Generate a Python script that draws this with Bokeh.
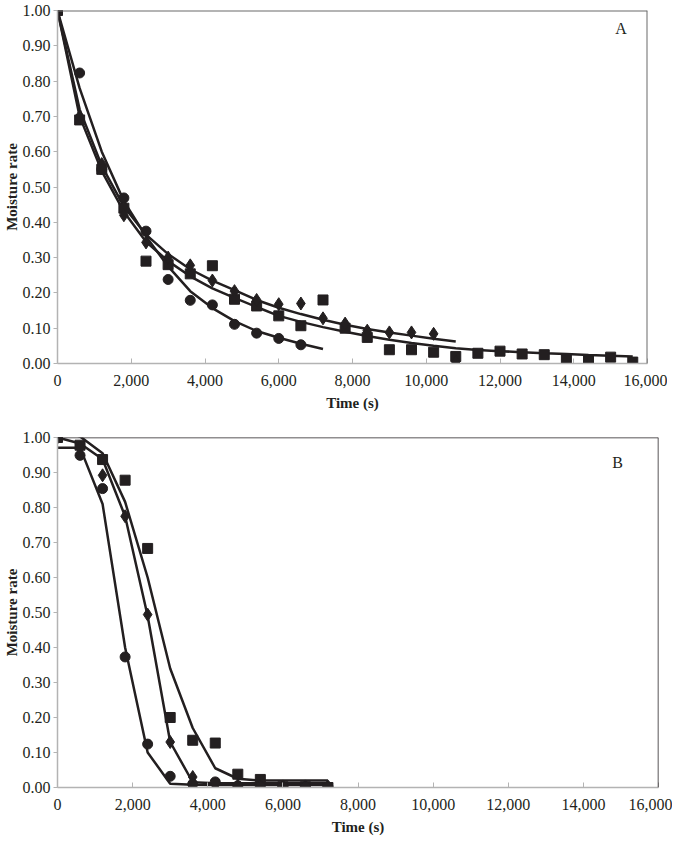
from bokeh.plotting import figure
from bokeh.layouts import column
from bokeh.models import FixedTicker, NumeralTickFormatter, Span, Label, Range1d
from bokeh.embed import file_html
from bokeh.resources import INLINE

# ---------------- data ----------------
x_ticks = [0, 2000, 4000, 6000, 8000, 10000, 12000, 14000, 16000]
y_ticks = [0.0, 0.1, 0.2, 0.3, 0.4, 0.5, 0.6, 0.7, 0.8, 0.9, 1.0]

# Panel A
a_t_circle = [0, 600, 1200, 1800, 2400, 3000, 3600, 4200, 4800, 5400, 6000, 6600]
a_circle = [1.00, 0.823, 0.55, 0.469, 0.375, 0.238, 0.179, 0.166, 0.111, 0.086, 0.071, 0.053]
a_t_circle_fit = [0, 600, 1200, 1800, 2400, 3000, 3600, 4200, 4800, 5400, 6000, 6600, 7200]
a_circle_fit = [1.00, 0.78, 0.60, 0.46, 0.36, 0.275, 0.205, 0.157, 0.12, 0.092, 0.073, 0.056, 0.041]

a_t_diamond = [0, 600, 1200, 1800, 2400, 3000, 3600, 4200, 4800, 5400, 6000, 6600, 7200,
               7800, 8400, 9000, 9600, 10200, 10800]
a_diamond = [1.00, 0.70, 0.565, 0.42, 0.343, 0.30, 0.278, 0.235, 0.205, 0.18, 0.168, 0.17, 0.128,
             0.113, 0.093, 0.088, 0.088, 0.084, 0.005]
a_diamond_fit = [1.00, 0.72, 0.56, 0.445, 0.365, 0.31, 0.267, 0.235, 0.208, 0.18, 0.158, 0.14, 0.124,
                 0.11, 0.098, 0.088, 0.079, 0.07, 0.062]

a_t_square = [0, 600, 1200, 1800, 2400, 3000, 3600, 4200, 4800, 5400, 6000, 6600, 7200, 7800,
              8400, 9000, 9600, 10200, 10800, 11400, 12000, 12600, 13200, 13800, 14400, 15000, 15600]
a_square = [1.00, 0.69, 0.55, 0.44, 0.29, 0.28, 0.254, 0.277, 0.182, 0.163, 0.135, 0.107, 0.18, 0.10,
            0.074, 0.039, 0.039, 0.032, 0.02, 0.029, 0.035, 0.027, 0.025, 0.01, 0.008, 0.018, 0.004]
a_square_fit = [1.00, 0.70, 0.545, 0.43, 0.345, 0.29, 0.247, 0.213, 0.186, 0.16, 0.135, 0.118, 0.103, 0.09,
                0.078, 0.067, 0.058, 0.05, 0.043, 0.038, 0.035, 0.032, 0.029, 0.027, 0.024, 0.022, 0.02]

# Panel B
b_t = [0, 600, 1200, 1800, 2400, 3000, 3600, 4200, 4800, 5400, 6000, 6600, 7200]
b_circle = [1.00, 0.949, 0.854, 0.373, 0.124, 0.032, 0.010, 0.016, 0.005, 0.003, 0.002, 0.002, 0.002]
b_circle_fit = [0.971, 0.971, 0.81, 0.40, 0.10, 0.011, 0.008, 0.007, 0.007, 0.007, 0.007, 0.007, 0.007]
b_diamond = [1.00, 0.97, 0.892, 0.775, 0.494, 0.13, 0.030, 0.008, 0.005, 0.004, 0.003, 0.003, 0.003]
b_diamond_fit = [1.00, 0.983, 0.938, 0.775, 0.49, 0.13, 0.015, 0.012, 0.012, 0.012, 0.012, 0.012, 0.012]
b_square = [1.00, 0.978, 0.937, 0.878, 0.683, 0.20, 0.135, 0.127, 0.038, 0.023, 0.002, 0.002, 0.0]
b_square_fit = [1.02, 1.003, 0.955, 0.816, 0.60, 0.34, 0.17, 0.055, 0.025, 0.02, 0.02, 0.02, 0.02]

# ---------------- style ----------------
FONT = "Liberation Serif"
INK = "#231f20"
AXIS_GRAY = "#b3b3b3"


def make_panel(frame_w, frame_h, b_top, b_bottom, b_right, letter, letter_x, letter_y,
               fits, marks, border_color, border_width):
    p = figure(frame_width=frame_w, frame_height=frame_h,
               x_range=Range1d(0, 16000), y_range=Range1d(0, 1.0),
               output_backend="svg", toolbar_location=None,
               min_border_left=40, min_border_right=b_right,
               min_border_top=b_top, min_border_bottom=b_bottom)
    p.grid.visible = False
    p.outline_line_color = None
    p.background_fill_color = "white"
    p.border_fill_color = "white"

    p.xaxis.ticker = FixedTicker(ticks=x_ticks)
    p.xaxis.formatter = NumeralTickFormatter(format="0,0")
    p.yaxis.ticker = FixedTicker(ticks=y_ticks)
    p.yaxis.formatter = NumeralTickFormatter(format="0.00")
    p.xaxis.minor_tick_line_color = None
    p.yaxis.minor_tick_line_color = None
    p.xaxis.major_tick_in = 5
    p.xaxis.major_tick_out = 0
    p.yaxis.major_tick_in = 0
    p.yaxis.major_tick_out = 4
    for ax in (p.xaxis, p.yaxis):
        ax.axis_line_color = AXIS_GRAY
        ax.major_tick_line_color = AXIS_GRAY
        ax.axis_line_width = 1.5
        ax.major_label_text_font = FONT
        ax.major_label_text_font_size = "16px"
        ax.major_label_text_color = INK
        ax.axis_label_text_font = FONT
        ax.axis_label_text_font_size = "15px"
        ax.axis_label_text_font_style = "bold"
        ax.axis_label_text_color = INK
    p.xaxis.axis_label = "Time (s)"
    p.yaxis.axis_label = "Moisture rate"
    p.xaxis.major_label_standoff = 11
    p.xaxis.axis_label_standoff = 6
    p.yaxis.major_label_standoff = 3
    p.yaxis.axis_label_standoff = 0

    p.add_layout(Span(location=1.0, dimension="width", line_color=border_color, line_width=border_width))
    p.add_layout(Span(location=16000, dimension="height", line_color=border_color, line_width=border_width))

    for tx, ty in fits:
        p.line(tx, ty, line_color=INK, line_width=2.5)
    for tx, ty, mk, sz in marks:
        p.scatter(tx, ty, marker=mk, size=sz, fill_color=INK, line_color=INK)

    p.add_layout(Label(x=letter_x, y=letter_y, text=letter, text_font=FONT, text_font_size="16px",
                       text_color=INK, text_align="center", text_baseline="middle"))
    return p


pA = make_panel(590, 353, 10, 62, 20, "A", 15280, 0.95,
                fits=[(a_t_circle_fit, a_circle_fit), (a_t_diamond, a_diamond_fit), (a_t_square, a_square_fit)],
                marks=[(a_t_square, a_square, "square", 10), (a_t_diamond, a_diamond, "diamond", 13),
                       (a_t_circle, a_circle, "circle", 10)],
                border_color="#6b6b6b", border_width=2)

pB = make_panel(601, 350, 12, 46, 14, "B", 14910, 0.93,
                fits=[(b_t, b_circle_fit), (b_t, b_diamond_fit), (b_t, b_square_fit)],
                marks=[(b_t, b_square, "square", 10), (b_t, b_diamond, "diamond", 13),
                       (b_t, b_circle, "circle", 10)],
                border_color=INK, border_width=1.5)

layout = column(pA, pB, spacing=0)
open("out.html", "w").write(file_html(layout, INLINE))
